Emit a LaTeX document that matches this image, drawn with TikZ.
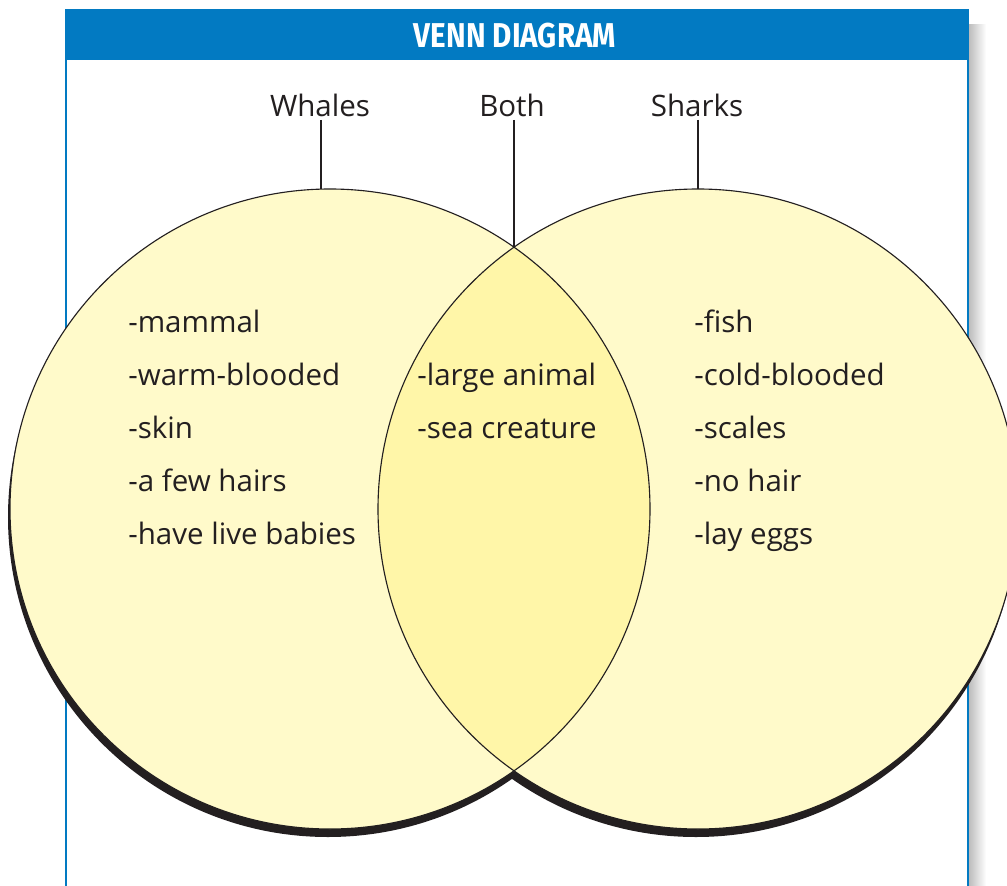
\documentclass[tikz,border=0pt]{standalone}
\usepackage{fontspec}
\setmainfont{Open Sans}
\newfontfamily\titlefont{Fira Sans}
\usetikzlibrary{calc}

\definecolor{vennblue}{RGB}{2,122,194}
\definecolor{vennyellow}{RGB}{255,250,202}
\definecolor{lensyellow}{RGB}{255,246,168}
\definecolor{inkgray}{RGB}{35,31,32}

\tikzset{
  hand/.style={font=\fontsize{21}{25}\selectfont, text=inkgray, inner sep=0pt},
  item/.style={hand, anchor=base west},
  tag/.style={hand, anchor=base},
  stem/.style={line width=1.2pt, inkgray},
}

\begin{document}
\begin{tikzpicture}
  \useasboundingbox (0,0) rectangle (25.175,22.125);
  \clip (0,0) rectangle (25.175,22.125);

  % Khung va tieu de
  \shade[left color=gray!55, right color=white] (24.2,-0.5) rectangle (24.65,21.5);
  \fill[white] (1.65,-0.5) rectangle (24.2,21.875);
  \draw[vennblue, line width=2.1pt] (1.65,-0.5) -- (1.65,21.875) -- (24.2,21.875) -- (24.2,-0.5);
  \fill[vennblue] (1.65,20.625) rectangle (24.2,21.875);
  \node[text=white, inner sep=0pt, anchor=base, font=\titlefont\bfseries\fontsize{24.5}{28}\selectfont] (title) at (12.875,20.925) {\scalebox{0.86}[1]{VENN DIAGRAM}};

  % Tam hai hinh tron
  \coordinate (L) at (8.25,9.4);
  \coordinate (R) at (17.45,9.4);

  % Bong den
  \fill[inkgray] ([shift={(-0.05,-0.2)}]L) circle (8);
  \fill[inkgray] ([shift={(-0.05,-0.2)}]R) circle (8);

  % To mau
  \fill[vennyellow] (L) circle (8);
  \fill[vennyellow] (R) circle (8);
  \begin{scope}
    \clip (L) circle (8);
    \fill[lensyellow] (R) circle (8);
  \end{scope}
  \draw[inkgray, line width=0.8pt] (L) circle (8) (R) circle (8);

  % Nhan va duong giong
  \coordinate (wtop) at ($(L)+(91.6:8)$);
  \coordinate (stop) at ($(R)+(90:8)$);
  \coordinate (btop) at (12.85,15.945);
  \node[tag] (whales) at (8.0,19.2) {Whales};
  \node[tag] (both) at (12.8,19.2) {Both};
  \node[tag] (sharks) at (17.425,19.2) {Sharks};
  \draw[stem] ([yshift=-0.06cm]wtop |- whales.south) -- (wtop);
  \draw[stem] ([yshift=-0.06cm]btop |- both.south) -- (btop);
  \draw[stem] ([yshift=-0.06cm]stop |- sharks.south) -- (stop);

  % Danh sach
  \foreach \txt [count=\i] in {-mammal, -warm-blooded, -skin, -a few hairs, -have live babies}
    \node[item] (whale\i) at (3.2,{13.825-1.33*(\i-1)}) {\txt};
  \foreach \txt [count=\i] in {-large animal, -sea creature}
    \node[item] (common\i) at (10.425,{12.5-1.33*(\i-1)}) {\txt};
  \foreach \txt [count=\i] in {-fish, -cold-blooded, -scales, -no hair, -lay eggs}
    \node[item] (shark\i) at (17.35,{13.825-1.33*(\i-1)}) {\txt};
\end{tikzpicture}
\end{document}
